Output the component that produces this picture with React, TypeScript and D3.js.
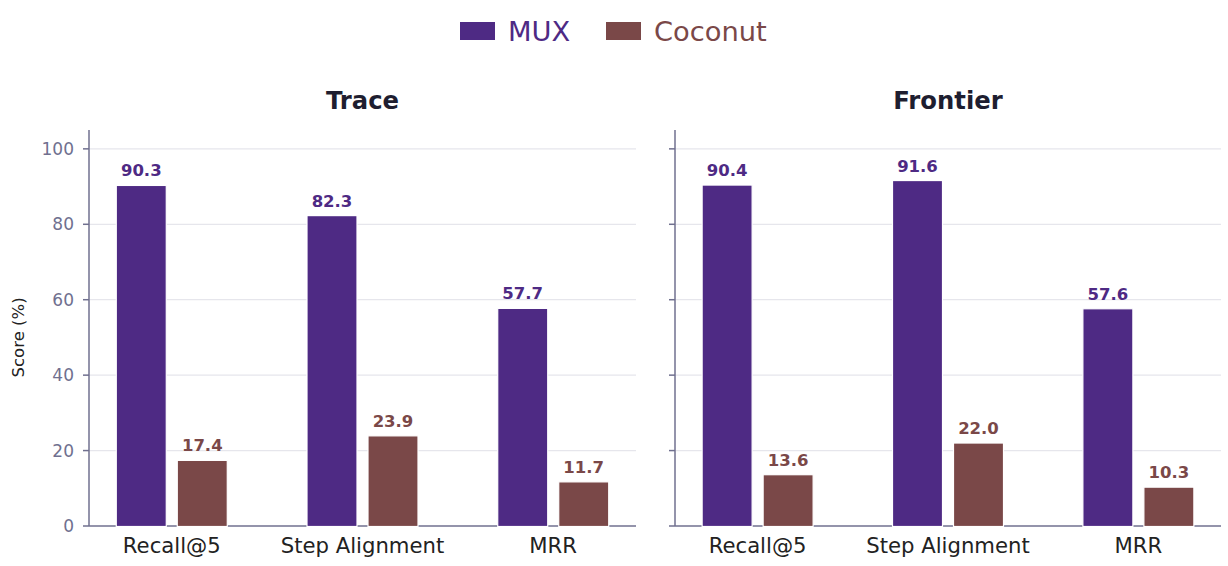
import React from "react";
import * as d3 from "d3";

const categories = ["Recall@5", "Step Alignment", "MRR"];
const panels = ["Trace", "Frontier"];
const seriesNames = ["MUX", "Coconut"];
const seriesColors = ["#4e2a84", "#7a4848"];
// values per panel: [MUX, Coconut] for each category
const traceMux = [90.3, 82.3, 57.7];
const traceCoconut = [17.4, 23.9, 11.7];
const frontierMux = [90.4, 91.6, 57.6];
const frontierCoconut = [13.6, 22.0, 10.3];
const yTicks = [0, 20, 40, 60, 80, 100];

const panelData = [
  [traceMux, traceCoconut],
  [frontierMux, frontierCoconut],
];

const W = 1228;
const H = 566;
const font = "'DejaVu Sans', Inter, sans-serif";
const axisColor = "#70708f";

export default function App() {
  const y = d3.scaleLinear().domain([0, 105]).range([526, 130]);
  const panelX = [
    [89, 636],
    [675, 1221],
  ];
  const barW = 50;
  const gap = 11;

  return (
    <svg
      width={W}
      height={H}
      style={{ position: "absolute", left: 0, top: 0, background: "#fff" }}
      fontFamily={font}
    >
      {/* legend */}
      {seriesNames.map((name, i) => {
        const lx = i === 0 ? 460 : 606;
        return (
          <g key={name}>
            <rect x={lx} y={22} width={35} height={18} fill={seriesColors[i]} />
            <text x={lx + 48} y={41} fontSize={27.3} fill={seriesColors[i]}>
              {name}
            </text>
          </g>
        );
      })}

      {/* y label */}
      <text
        transform={`translate(24,${y(50)}) rotate(-90)`}
        textAnchor="middle"
        fontSize={16.5}
        fill="#222"
      >
        Score (%)
      </text>

      {panels.map((title, pi) => {
        const [x0, x1] = panelX[pi];
        const x = d3.scalePoint<string>().domain(categories).range([x0, x1]).padding(0.434);
        const data = panelData[pi];
        return (
          <g key={title}>
            <text
              x={(x0 + x1) / 2}
              y={109}
              textAnchor="middle"
              fontSize={24.3}
              fontWeight={700}
              fill="#1e1e30"
            >
              {title}
            </text>
            {/* grid */}
            {yTicks
              .filter((t) => t > 0)
              .map((t) => (
                <line key={t} x1={x0} x2={x1} y1={y(t)} y2={y(t)} stroke="#e6e6ec" strokeWidth={1.2} />
              ))}
            {/* y axis */}
            <line x1={x0} x2={x0} y1={130} y2={526} stroke={axisColor} strokeWidth={1.5} />
            {yTicks.map((t) => (
              <g key={t}>
                <line x1={x0 - 6} x2={x0} y1={y(t)} y2={y(t)} stroke={axisColor} strokeWidth={1.5} />
                {pi === 0 && (
                  <text x={x0 - 15} y={y(t) + 6} textAnchor="end" fontSize={17} fill={axisColor}>
                    {t}
                  </text>
                )}
              </g>
            ))}
            {/* x axis */}
            <line x1={x0} x2={x1} y1={526} y2={526} stroke={axisColor} strokeWidth={1.5} />
            {categories.map((c, ci) => (
              <g key={c}>
                {data.map((vals, si) => {
                  const cx = x(c)! + (si === 0 ? -(gap / 2 + barW / 2) : gap / 2 + barW / 2);
                  const v = vals[ci];
                  return (
                    <g key={si}>
                      <rect
                        x={cx - barW / 2}
                        y={y(v)}
                        width={barW}
                        height={y(0) - y(v) + 0.5}
                        fill={seriesColors[si]}
                        stroke="#fff"
                        strokeWidth={1.2}
                      />
                      <text
                        x={cx}
                        y={y(v) - 9}
                        textAnchor="middle"
                        fontSize={16.5}
                        fontWeight={600}
                        fill={seriesColors[si]}
                      >
                        {v.toFixed(1)}
                      </text>
                    </g>
                  );
                })}
                <text x={x(c)} y={553} textAnchor="middle" fontSize={21.2} fill="#222">
                  {c}
                </text>
              </g>
            ))}
          </g>
        );
      })}
    </svg>
  );
}
